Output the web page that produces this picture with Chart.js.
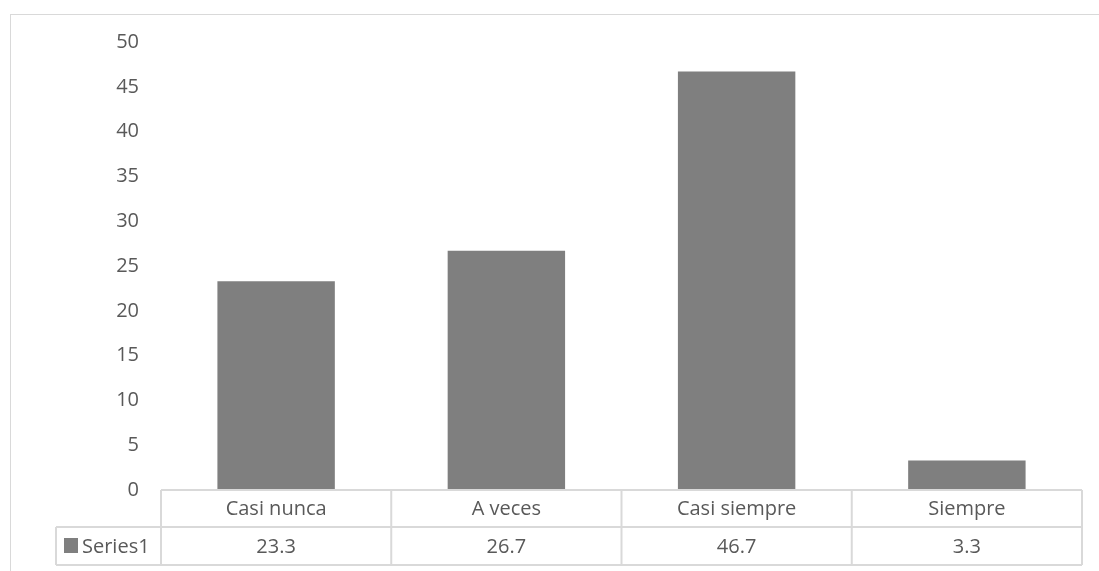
<!DOCTYPE html>
<html>
<head>
<meta charset="utf-8">
<script src="https://cdn.jsdelivr.net/npm/chart.js@4/dist/chart.umd.min.js"></script>
<style>
  body { margin: 0; background: #fff; overflow: hidden; }
  #frame { position: absolute; left: 10px; top: 14px; width: 1200px; height: 700px; border: 1px solid #d9d9d9; }
  #wrap { position: absolute; left: 0; top: 0; width: 1099px; height: 571px; }
</style>
</head>
<body>
<div id="frame"></div>
<div id="wrap"><canvas id="chart"></canvas></div>
<script>
const categories = ['Casi nunca', 'A veces', 'Casi siempre', 'Siempre'];
const seriesName = 'Series1';
const values = [23.3, 26.7, 46.7, 3.3];
const valueLabels = ['23.3', '26.7', '46.7', '3.3'];

const textColor = '#595959';
const lineColor = '#d9d9d9';
const barColor = '#7f7f7f';
const fontFamily = '"Open Sans", Lato, sans-serif';
const font = '20px ' + fontFamily;

// 데이터 표 (Excel 스타일) 그리기
const dataTable = {
  id: 'dataTable',
  afterDraw(chart) {
    const { ctx, chartArea } = chart;
    const x = chart.scales.x;
    const left = chartArea.left, right = chartArea.right;
    const top = chartArea.bottom;
    const mid = top + 37, bottom = mid + 38;
    const legendLeft = 56;
    const step = (right - left) / categories.length;

    ctx.save();
    ctx.strokeStyle = lineColor;
    ctx.lineWidth = 2;
    ctx.beginPath();
    // 가로선
    ctx.moveTo(left, top); ctx.lineTo(right, top);
    ctx.moveTo(legendLeft, mid); ctx.lineTo(right, mid);
    ctx.moveTo(legendLeft, bottom); ctx.lineTo(right, bottom);
    // 세로선
    ctx.moveTo(legendLeft, mid); ctx.lineTo(legendLeft, bottom);
    for (let i = 0; i <= categories.length; i++) {
      const vx = left + step * i;
      ctx.moveTo(vx, top); ctx.lineTo(vx, bottom);
    }
    ctx.stroke();

    ctx.fillStyle = textColor;
    ctx.font = font;
    ctx.textAlign = 'center';
    ctx.textBaseline = 'middle';
    categories.forEach((c, i) => {
      const cx = x.getPixelForValue(i);
      ctx.fillText(c, cx, (top + mid) / 2 + 1);
      ctx.fillText(valueLabels[i], cx, (mid + bottom) / 2 + 1);
    });

    // 범례 키
    ctx.fillStyle = barColor;
    ctx.fillRect(64, mid + 11, 14, 15);
    ctx.fillStyle = textColor;
    ctx.textAlign = 'left';
    ctx.fillText(seriesName, 82, (mid + bottom) / 2 + 1);
    ctx.restore();
  }
};

new Chart(document.getElementById('chart'), {
  type: 'bar',
  data: {
    labels: categories,
    datasets: [{
      label: seriesName,
      data: values,
      backgroundColor: barColor,
      borderWidth: 0,
      categoryPercentage: 1,
      barPercentage: 0.51
    }]
  },
  options: {
    responsive: true,
    maintainAspectRatio: false,
    animation: false,
    layout: { padding: { top: 42, right: 17, bottom: 81, left: 10 } },
    plugins: { legend: { display: false }, tooltip: { enabled: false } },
    scales: {
      x: {
        display: true,
        ticks: { display: false },
        grid: { display: false, drawTicks: false },
        border: { display: false }
      },
      y: {
        min: 0,
        max: 50,
        ticks: { stepSize: 5, color: textColor, font: { family: fontFamily, size: 20 }, padding: 22 },
        grid: { display: false, drawTicks: false },
        border: { display: false },
        afterFit(scale) { scale.width = 151; }
      }
    }
  },
  plugins: [dataTable]
});
</script>
</body>
</html>
